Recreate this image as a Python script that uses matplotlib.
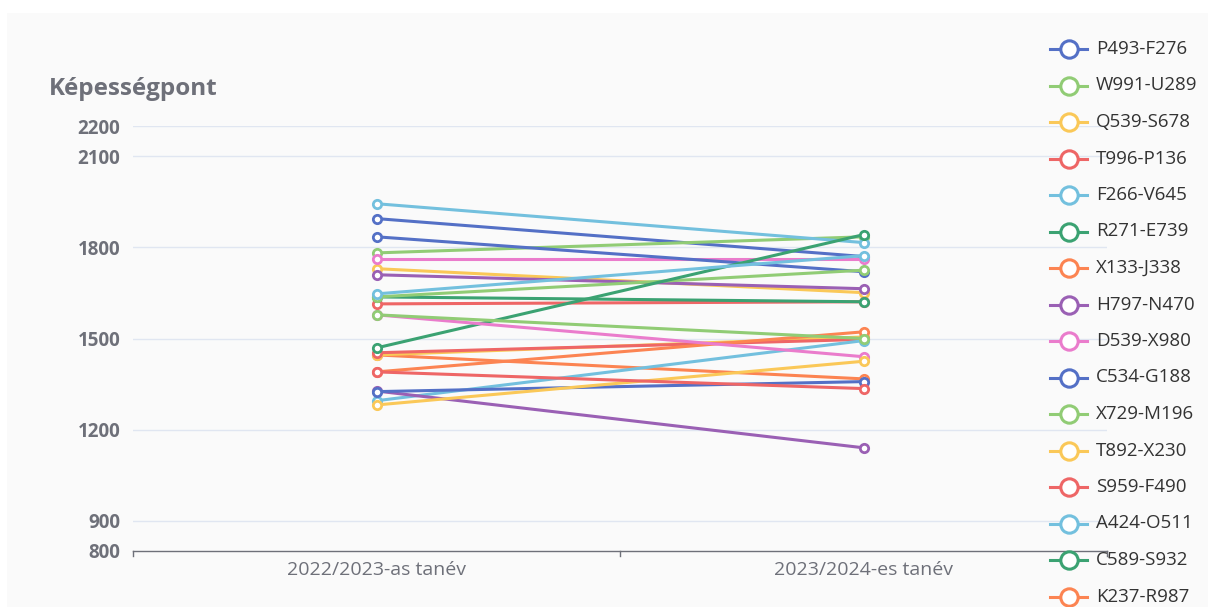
import matplotlib.pyplot as plt
from matplotlib.lines import Line2D
from matplotlib.patches import Rectangle

plt.rcParams['font.family'] = ['Open Sans', 'DejaVu Sans']

# Tanévek (kategóriák)
tanevek = ['2022/2023-as tanév', '2023/2024-es tanév']

# Sorozatok nevei (a jelmagyarázatban csak az első 16 látszik)
nevek = ['P493-F276', 'W991-U289', 'Q539-S678', 'T996-P136', 'F266-V645',
         'R271-E739', 'X133-J338', 'H797-N470', 'D539-X980', 'C534-G188',
         'X729-M196', 'T892-X230', 'S959-F490', 'A424-O511', 'C589-S932',
         'K237-R987', 'M412-B703', 'L358-Z614', 'E827-K159', 'N640-D372',
         'G115-V908', 'U503-H261', 'Y786-Q447']

# Képességpontok: első és második tanév
ev1 = [1895, 1782, 1730, 1614, 1944, 1637, 1446, 1710, 1763, 1835, 1637, 1446,
       1453, 1295, 1469, 1390, 1327, 1578, 1325, 1578, 1281, 1390, 1647]
ev2 = [1770, 1835, 1651, 1621, 1816, 1621, 1367, 1664, 1763, 1720, 1725, 1505,
       1497, 1493, 1842, 1522, 1140, 1440, 1358, 1500, 1425, 1335, 1773]

szinek = ['#5470c6', '#91cc75', '#fac858', '#ee6666', '#73c0de',
          '#3ba272', '#fc8452', '#9a60b4', '#ea7ccc']

yticks = [800, 900, 1200, 1500, 1800, 2100, 2200]

W, H = 1208, 607
fig = plt.figure(figsize=(W / 100, H / 100), dpi=100)
fig.patch.set_facecolor('white')
fig.add_artist(Rectangle((7 / W, 0), 1, 1 - 13 / H, transform=fig.transFigure,
                         facecolor='#fafafa', edgecolor='none', zorder=-10))

ax = fig.add_axes([133 / W, 56 / H, 974 / W, 425 / H])
ax.set_facecolor('none')

for i in range(len(nevek)):
    c = szinek[i % len(szinek)]
    ax.plot([0, 1], [ev1[i], ev2[i]], color=c, lw=2.2, marker='o', ms=6,
            mfc='white', mec=c, mew=2.0, zorder=3 + i * 0.01)

ax.set_xlim(-0.5, 1.5)
ax.set_ylim(800, 2200)
ax.set_yticks(yticks)
ax.set_yticklabels([str(v) for v in yticks], fontsize=13.5, fontweight='bold', color='#6e7079')
for v in yticks[1:]:
    ax.axhline(v, color='#e0e6f1', lw=1, zorder=1)

ax.set_xticks([0, 1])
ax.set_xticklabels(tanevek, fontsize=14, color='#6e7079')
ax.tick_params(axis='x', length=0, pad=7)
ax.tick_params(axis='y', length=0, pad=9)
for xb in [-0.5, 0.5, 1.5]:
    ax.plot([xb, xb], [800, 800 - 1400 * 5 / 425], color='#6e7079', lw=1,
            clip_on=False, zorder=2)

for s in ['top', 'right', 'left']:
    ax.spines[s].set_visible(False)
ax.spines['bottom'].set_color('#6e7079')
ax.spines['bottom'].set_linewidth(1)

fig.text(49 / W, 1 - 89 / H, 'Képességpont', fontsize=17.5, fontweight='bold',
         color='#6e7079', ha='left', va='center')

# Jelmagyarázat (kézzel, a kép jobb szélén; csak a kiférő 16 elem)
for i, nev in enumerate(nevek[:16]):
    c = szinek[i % len(szinek)]
    yp = 1 - (49 + i * 36.5) / H
    fig.add_artist(Line2D([1050 / W, 1087 / W], [yp, yp], transform=fig.transFigure,
                          color=c, lw=2.2))
    fig.add_artist(Line2D([1068.5 / W], [yp], transform=fig.transFigure,
                          marker='o', ms=12.5, mfc='white', mec=c, mew=2.2))
    fig.text(1096 / W, yp, nev, fontsize=13.5, color='#333333', ha='left', va='center')

fig.savefig('out.png', dpi=100)
